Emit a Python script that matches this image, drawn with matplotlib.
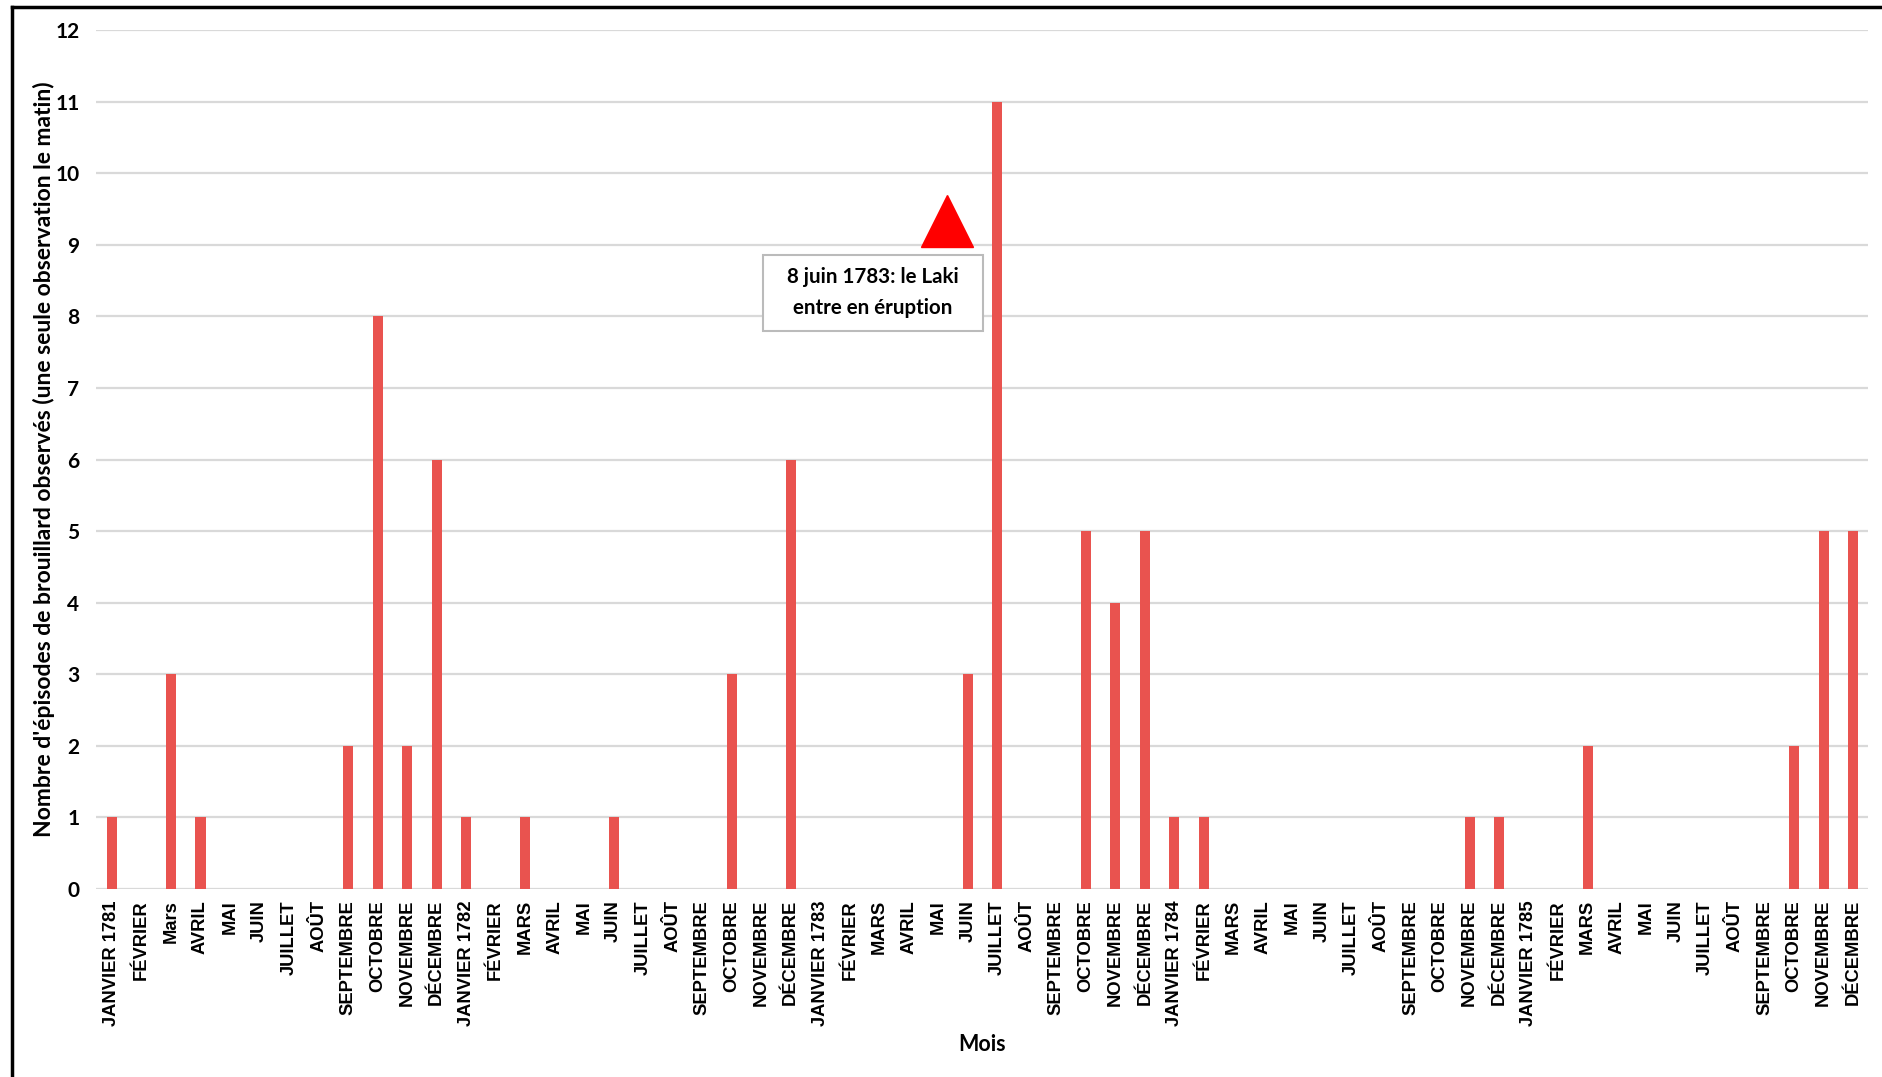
import matplotlib
matplotlib.use("Agg")
import matplotlib.pyplot as plt
from matplotlib.lines import Line2D
from matplotlib.patches import Rectangle

months_fr = ["JANVIER", "FÉVRIER", "MARS", "AVRIL", "MAI", "JUIN", "JUILLET",
             "AOÛT", "SEPTEMBRE", "OCTOBRE", "NOVEMBRE", "DÉCEMBRE"]
years = [1781, 1782, 1783, 1784, 1785]

labels = []
for y in years:
    for i, m in enumerate(months_fr):
        if i == 0:
            labels.append(f"{m} {y}")
        else:
            labels.append(m)
labels[2] = "Mars"  # as in the original chart

values_1781 = [1, 0, 3, 1, 0, 0, 0, 0, 2, 8, 2, 6]
values_1782 = [1, 0, 1, 0, 0, 1, 0, 0, 0, 3, 0, 6]
values_1783 = [0, 0, 0, 0, 0, 3, 11, 0, 0, 5, 4, 5]
values_1784 = [1, 1, 0, 0, 0, 0, 0, 0, 0, 0, 1, 1]
values_1785 = [0, 0, 2, 0, 0, 0, 0, 0, 0, 2, 5, 5]
values = values_1781 + values_1782 + values_1783 + values_1784 + values_1785

fig = plt.figure(figsize=(18.83, 10.77), dpi=100)
ax = fig.add_axes([0.051, 0.1746, 0.941, 0.7974])

x = list(range(len(values)))
ax.bar(x, values, width=0.34, color="#E9534F", zorder=3)

ax.set_xlim(-0.54, len(values) - 0.5)
ax.set_ylim(0, 12)
ax.set_yticks(range(0, 13))
ax.yaxis.grid(True, color="#D9D9D9", linewidth=1.6, zorder=0)
ax.set_axisbelow(True)
for s in ax.spines.values():
    s.set_visible(False)
ax.tick_params(axis="both", length=0)
ax.tick_params(axis="y", pad=12)
ax.tick_params(axis="x", pad=8)

ax.set_xticks(x)
ax.set_xticklabels(labels, rotation=90, fontsize=13.2, fontweight="bold",
                   family="Liberation Sans")
for t in ax.get_yticklabels():
    t.set_fontsize(15)
    t.set_fontweight("bold")
    t.set_family("Lato")

ax.set_xlabel("Mois", fontsize=15.5, fontweight="bold", family="Lato", labelpad=6)
ax.set_ylabel("Nombre d'épisodes de brouillard observés (une seule observation le matin)",
              fontsize=16.5, fontweight="bold", family="Lato", labelpad=0)

# Annotation: eruption of Laki
ax.plot([28.3], [9.33], marker="^", markersize=37, color="#FF0000",
        linestyle="none", zorder=5, clip_on=False)
ax.add_patch(Rectangle((22.05, 7.8), 7.45, 1.06, facecolor="white",
                       edgecolor="#BBBBBB", linewidth=1.5, zorder=6))
ax.text(25.78, 8.33, "8 juin 1783: le Laki\nentre en éruption",
        ha="center", va="center", fontsize=14.8, fontweight="bold", family="Lato",
        linespacing=1.7, zorder=7)

# Outer frame lines (left and top)
fig.add_artist(Line2D([12 / 1883, 12 / 1883], [0, 1 - 7 / 1077],
                      transform=fig.transFigure, color="black", linewidth=2.5))
fig.add_artist(Line2D([12 / 1883, 1], [1 - 7 / 1077, 1 - 7 / 1077],
                      transform=fig.transFigure, color="black", linewidth=2.5))

fig.savefig("out.png", dpi=100)
